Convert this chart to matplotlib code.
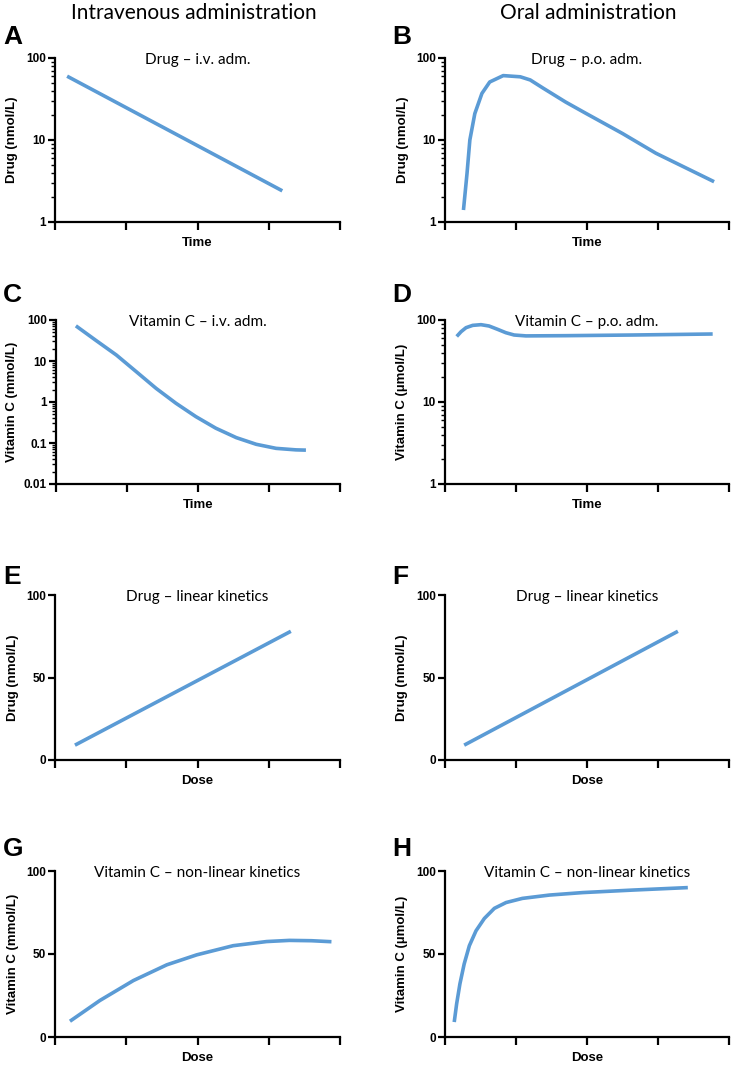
import matplotlib
matplotlib.use("Agg")
import matplotlib.pyplot as plt
from matplotlib.ticker import LogLocator, NullFormatter, FixedLocator, FixedFormatter

W, H = 733, 1065

# values (x in tick units 0..4)
a_x = [0.17, 3.19]
a_y = [60.0, 2.4]

b_x = [0.26, 0.31, 0.35, 0.42, 0.52, 0.63, 0.82, 1.06, 1.2, 1.38, 1.70, 1.99, 2.5, 2.97, 3.79]
b_y = [1.4, 3.9, 10.0, 21.0, 37.0, 51.0, 61.0, 59.0, 54.0, 43.0, 29.0, 21.0, 12.0, 6.9, 3.1]

c_x = [0.28, 0.56, 0.85, 1.13, 1.41, 1.69, 1.97, 2.25, 2.54, 2.82, 3.1, 3.38, 3.52]
c_y = [72.0, 32.0, 14.0, 5.5, 2.15, 0.93, 0.44, 0.23, 0.135, 0.093, 0.074, 0.068, 0.067]

d_x = [0.165, 0.226, 0.296, 0.39, 0.507, 0.62, 0.74, 0.857, 0.974, 1.14, 1.7, 2.64, 3.77]
d_y = [63.0, 72.0, 80.6, 86.0, 87.7, 84.5, 77.0, 70.0, 65.6, 64.0, 64.4, 65.6, 67.5]

e_x = [0.28, 3.31]
e_y = [9.0, 78.0]

f_x = [0.27, 3.28]
f_y = [9.0, 78.0]

g_x = [0.21, 0.63, 1.1, 1.57, 1.99, 2.5, 2.97, 3.29, 3.6, 3.88]
g_y = [9.5, 22.0, 34.0, 43.5, 49.5, 55.0, 57.5, 58.2, 58.0, 57.4]

h_x = [0.13, 0.164, 0.21, 0.27, 0.343, 0.437, 0.554, 0.695, 0.86, 1.09, 1.47, 1.94, 2.64, 3.42]
h_y = [9.0, 20.0, 32.0, 44.0, 55.0, 64.0, 71.4, 77.5, 81.0, 83.5, 85.5, 87.0, 88.5, 90.0]

panels = [
  # letter, title, ylabel, xlabel, x, y, log range, box(l,t,r,b) px, ylabel x px, letter y px
  ("A", "Drug \u2013 i.v. adm.", "Drug (nmol/L)", "Time", a_x, a_y, (1, 100), (55, 58, 340, 222), 12, 37),
  ("B", "Drug \u2013 p.o. adm.", "Drug (nmol/L)", "Time", b_x, b_y, (1, 100), (445, 58, 729, 222), 403, 37),
  ("C", "Vitamin C \u2013 i.v. adm.", "Vitamin C (mmol/L)", "Time", c_x, c_y, (0.01, 100), (56, 320, 340, 484), 12, 295),
  ("D", "Vitamin C \u2013 p.o. adm.", "Vitamin C (\u00b5mol/L)", "Time", d_x, d_y, (1, 100), (445, 320, 729, 484), 402, 295),
  ("E", "Drug \u2013 linear kinetics", "Drug (nmol/L)", "Dose", e_x, e_y, None, (55, 595, 340, 760), 13, 577),
  ("F", "Drug \u2013 linear kinetics", "Drug (nmol/L)", "Dose", f_x, f_y, None, (445, 595, 729, 760), 402, 577),
  ("G", "Vitamin C \u2013 non-linear kinetics", "Vitamin C (mmol/L)", "Dose", g_x, g_y, None, (55, 871, 340, 1037), 13, 849),
  ("H", "Vitamin C \u2013 non-linear kinetics", "Vitamin C (\u00b5mol/L)", "Dose", h_x, h_y, None, (445, 871, 729, 1037), 402, 849),
]

line_color = "#5b9bd5"
bold_font = ["Liberation Sans", "DejaVu Sans"]
title_font = ["Lato", "DejaVu Sans"]

fig = plt.figure(figsize=(W / 100, H / 100), dpi=100)

for letter, title, ylab, xlab, xs, ys, logr, box, ylx, lety in panels:
  l, t, r, b = box
  ax = fig.add_axes([l / W, 1 - b / H, (r - l) / W, (b - t) / H])
  ax.plot(xs, ys, color=line_color, linewidth=2.6, solid_capstyle="butt", solid_joinstyle="round")
  ax.set_xlim(0, 4)
  ax.set_xticks([0, 1, 2, 3, 4])
  ax.set_xticklabels([])
  if logr is not None:
    ax.set_yscale("log")
    ax.set_ylim(*logr)
    ax.yaxis.set_minor_locator(LogLocator(base=10, subs=range(2, 10), numticks=10))
    ax.yaxis.set_minor_formatter(NullFormatter())
    lo, hi = logr
    vals = []
    v = lo
    while v <= hi * 1.001:
      vals.append(v)
      v *= 10
    ax.yaxis.set_major_locator(FixedLocator(vals))
    ax.yaxis.set_major_formatter(FixedFormatter([("%g" % v) for v in vals]))
  else:
    ax.set_ylim(0, 100)
    ax.set_yticks([0, 50, 100])
  for s in ("top", "right"):
    ax.spines[s].set_visible(False)
  for s in ("left", "bottom"):
    ax.spines[s].set_linewidth(1.6)
  ax.tick_params(axis="both", which="major", width=1.6, length=5, pad=1.5)
  ax.tick_params(axis="y", which="minor", width=1.0, length=3)
  ax.tick_params(axis="x", which="major", length=6)
  for lab in ax.get_yticklabels():
    lab.set_fontfamily(bold_font)
    lab.set_fontweight("bold")
    lab.set_fontsize(8.5)
  ax.set_xlabel(xlab, fontsize=9.5, fontweight="bold", family=bold_font)
  ax.xaxis.set_label_coords(0.5, -15 / (b - t))
  ax.set_ylabel(ylab, fontsize=9.5, fontweight="bold", family=bold_font, va="center")
  ax.yaxis.set_label_coords(-(l - ylx) / (r - l), 0.5)
  ax.text(0.5, 1 - 2 / (b - t), title, transform=ax.transAxes, ha="center", va="center",
          fontsize=11, family=title_font)
  lx = 3 if l < 200 else 392
  fig.text(lx / W, 1 - lety / H, letter, fontsize=19, fontweight="bold", family=bold_font,
           ha="left", va="center")

fig.text(194 / W, 1 - 13 / H, "Intravenous administration", fontsize=15, family=title_font,
         ha="center", va="center")
fig.text(588 / W, 1 - 13 / H, "Oral administration", fontsize=15, family=title_font,
         ha="center", va="center")

fig.savefig("out.png", dpi=100)
